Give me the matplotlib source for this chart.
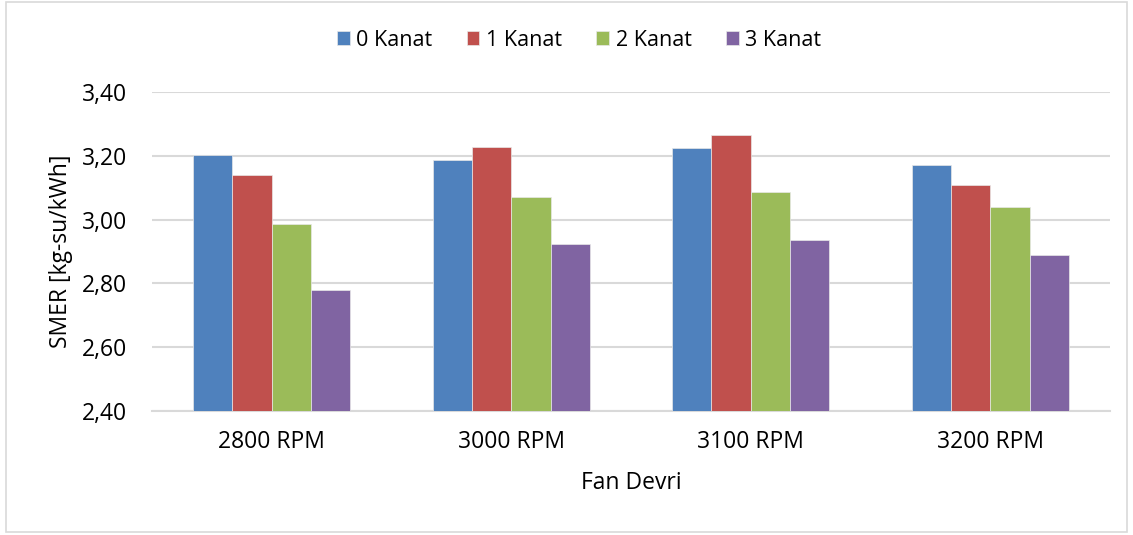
import matplotlib.pyplot as plt
import numpy as np
from matplotlib.patches import Rectangle

# veri
kategoriler = ['2800 RPM', '3000 RPM', '3100 RPM', '3200 RPM']
seriler = ['0 Kanat', '1 Kanat', '2 Kanat', '3 Kanat']
kanat0 = [3.204, 3.186, 3.225, 3.171]
kanat1 = [3.139, 3.227, 3.264, 3.110]
kanat2 = [2.987, 3.071, 3.086, 3.041]
kanat3 = [2.779, 2.924, 2.936, 2.889]
yticks = [2.40, 2.60, 2.80, 3.00, 3.20, 3.40]

renkler = ['#4F81BD', '#C0504D', '#9BBB59', '#8064A2']

plt.rcParams['font.family'] = ['Open Sans', 'DejaVu Sans']

fig = plt.figure(figsize=(11.33, 5.35), dpi=100)
ax = fig.add_axes([152/1133, 1-411/535, 958/1133, 319/535])

x = np.arange(len(kategoriler))
w = 0.164
for i, (vals, ad) in enumerate(zip([kanat0, kanat1, kanat2, kanat3], seriler)):
    ax.bar(x + (i-1.5)*w, np.array(vals)-2.4, w, bottom=2.4, color=renkler[i],
           edgecolor='#e8e8e8', linewidth=0.5, label=ad, zorder=3)

ax.set_xlim(-0.5, 3.5)
ax.set_ylim(2.4, 3.4)
ax.set_yticks(yticks)
ax.set_yticklabels([f'{v:.2f}'.replace('.', ',') for v in yticks], fontsize=16.5)
ax.set_xticks(x)
ax.set_xticklabels(kategoriler, fontsize=16.5)
ax.tick_params(axis='x', length=0, pad=14)
ax.tick_params(axis='y', length=0, pad=18)
ax.grid(axis='y', color='#d9d9d9', linewidth=1.5, zorder=0)
for s in ['top', 'right', 'left']:
    ax.spines[s].set_visible(False)
ax.spines['bottom'].set_color('#d9d9d9')
ax.spines['bottom'].set_linewidth(1.5)

ax.set_ylabel('SMER [kg-su/kWh]', fontsize=16.5, labelpad=6)
ax.set_xlabel('Fan Devri', fontsize=16.5, labelpad=12)

fig.legend(loc='center', bbox_to_anchor=(579/1133, 1-40/535), ncol=4, frameon=False,
           fontsize=15.5, handlelength=0.6, handleheight=0.6, handletextpad=0.3,
           columnspacing=1.6)

fig.patches.append(Rectangle((0.005, 0.006), 0.99, 0.99, transform=fig.transFigure,
                             fill=False, edgecolor='#d9d9d9', linewidth=1.2))

fig.savefig('out.png', dpi=100)
